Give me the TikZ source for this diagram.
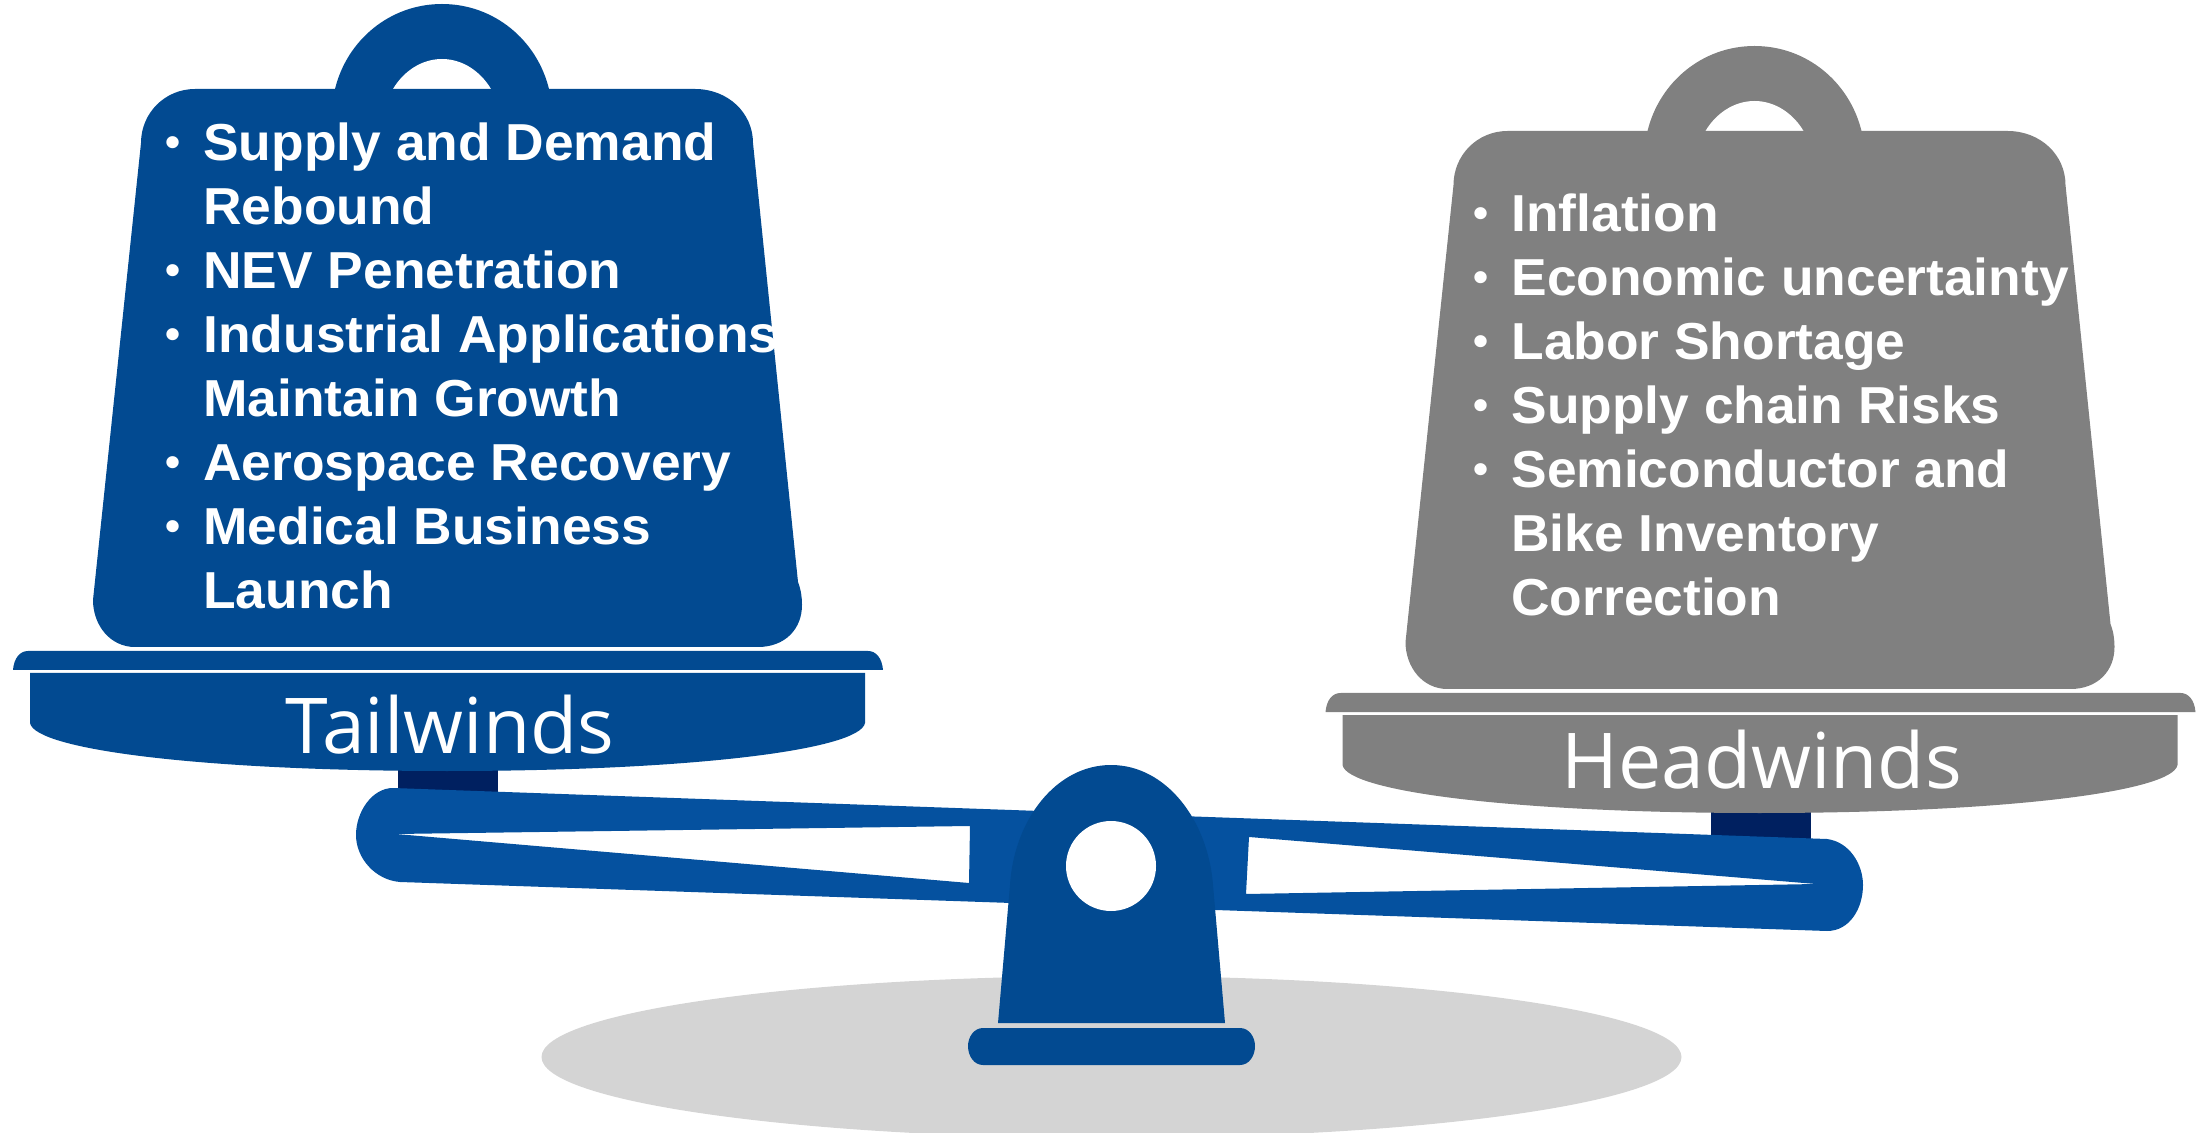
\documentclass[tikz,border=0pt]{standalone}
\usepackage{fontspec}
\setmainfont[FakeStretch=1.026]{Liberation Sans}
\newfontfamily\labelfont{Open Sans}
\definecolor{wblue}{HTML}{024A91}
\definecolor{bblue}{HTML}{05519F}
\definecolor{wgray}{HTML}{808080}
\definecolor{navy}{HTML}{002060}
\definecolor{shadow}{HTML}{D4D4D4}
\tikzset{
  item/.style={anchor=base west,inner sep=0pt,yshift=-0.4pt,text=white,font=\fontsize{26}{30}\selectfont\bfseries},
  bull/.style={anchor=base,inner sep=0pt,yshift=1.75pt,text=white,font=\fontsize{21}{26}\selectfont\bfseries},
  pantitle/.style={anchor=base,inner sep=0pt,text=white,font=\fontsize{38.5}{46}\selectfont\labelfont},
}
\newcommand{\drawWeight}[3]{%
\begin{scope}[shift={(#1,#2)}]
  \fill[#3] (335,89) .. controls (347,40) and (390,4) .. (442,4) .. controls (494,4) and (537,40) .. (549,89) -- cycle;
  \fill[white] (393,89) .. controls (403,72) and (421,59) .. (442,59) .. controls (463,59) and (481,72) .. (491,89) -- cycle;
  \fill[#3] (195,89) -- (695,89) .. controls (728,89) and (753,113) .. (753,143) -- (798,582)
    .. controls (801,590) and (802,597) .. (802,605) .. controls (802,629) and (785,647) .. (758,647)
    -- (135,647) .. controls (110,647) and (93,625) .. (93,600) -- (141,143)
    .. controls (141,113) and (165,89) .. (195,89) -- cycle;
  \fill[navy] (398,760) rectangle (498,800);
  \fill[#3] (13,670) .. controls (14,658) and (20,651) .. (28,651) -- (868,651) .. controls (876,651) and (882,658) .. (883,670) -- cycle;
  \fill[#3] (30,673) -- (865,673) -- (865,723) .. controls (860,750) and (690,771) .. (447,771)
    .. controls (205,771) and (35,750) .. (30,723) -- cycle;
\end{scope}}
\begin{document}
\begin{tikzpicture}[x=0.5pt,y=-0.5pt]
\useasboundingbox (0,0) rectangle (2201,1133);
% shadow
\fill[shadow] (1111.5,1057) ellipse [x radius=570,y radius=81];
% weights and pans
\drawWeight{0}{0}{wblue}
\drawWeight{1312.5}{42}{wgray}
% beam
\fill[bblue,even odd rule] (393,788) -- (1827,839) .. controls (1850,842) and (1863,865) .. (1863,885)
   .. controls (1863,908) and (1850,931) .. (1827,931) -- (400,882)
   .. controls (375,880) and (356,858) .. (356,835) .. controls (356,812) and (372,788) .. (393,788) -- cycle
   (396,834) -- (970,826) -- (969,883) -- cycle
   (1249,837) -- (1816,884) -- (1246,894) -- cycle;
% fulcrum
\fill[wblue] (998,1023) -- (1010,885) .. controls (1014,820) and (1056,765) .. (1111,765)
   .. controls (1166,765) and (1208,820) .. (1213,885) -- (1225,1023) -- cycle;
\fill[white] (1111,866) circle [radius=45];
\fill[wblue] (983,1028) -- (1240,1028) .. controls (1249,1028) and (1255,1037) .. (1255,1046)
   .. controls (1255,1056) and (1249,1065) .. (1240,1065) -- (983,1065)
   .. controls (974,1065) and (968,1056) .. (968,1046) .. controls (968,1037) and (974,1028) .. (983,1028) -- cycle;
% pan titles
\node[pantitle] (tail) at (450,754) {Tailwinds};
\node[pantitle] (head) at (1761.5,788) {Headwinds};
% left list
\node[bull] (lb1) at (173,160) {•};
\node[item] (l1) at (203,160) {Supply and Demand};
\node[item] (l2) at (203,224) {Rebound};
\node[bull] (lb2) at (173,288) {•};
\node[item] (l3) at (203,288) {NEV Penetration};
\node[bull] (lb3) at (173,352) {•};
\node[item] (l4) at (203,352) {Industrial Applications};
\node[item] (l5) at (203,416) {Maintain Growth};
\node[bull] (lb4) at (173,480) {•};
\node[item] (l6) at (203,480) {Aerospace Recovery};
\node[bull] (lb5) at (173,544) {•};
\node[item] (l7) at (203,544) {Medical Business};
\node[item] (l8) at (203,608) {Launch};
% right list
\node[bull] (rb1) at (1481,231) {•};
\node[item] (r1) at (1511,231) {Inflation};
\node[bull] (rb2) at (1481,295) {•};
\node[item] (r2) at (1511,295) {Economic uncertainty};
\node[bull] (rb3) at (1481,359) {•};
\node[item] (r3) at (1511,359) {Labor Shortage};
\node[bull] (rb4) at (1481,423) {•};
\node[item] (r4) at (1511,423) {Supply chain Risks};
\node[bull] (rb5) at (1481,487) {•};
\node[item] (r5) at (1511,487) {Semiconductor and};
\node[item] (r6) at (1511,551) {Bike Inventory};
\node[item] (r7) at (1511,615) {Correction};
\end{tikzpicture}
\end{document}
